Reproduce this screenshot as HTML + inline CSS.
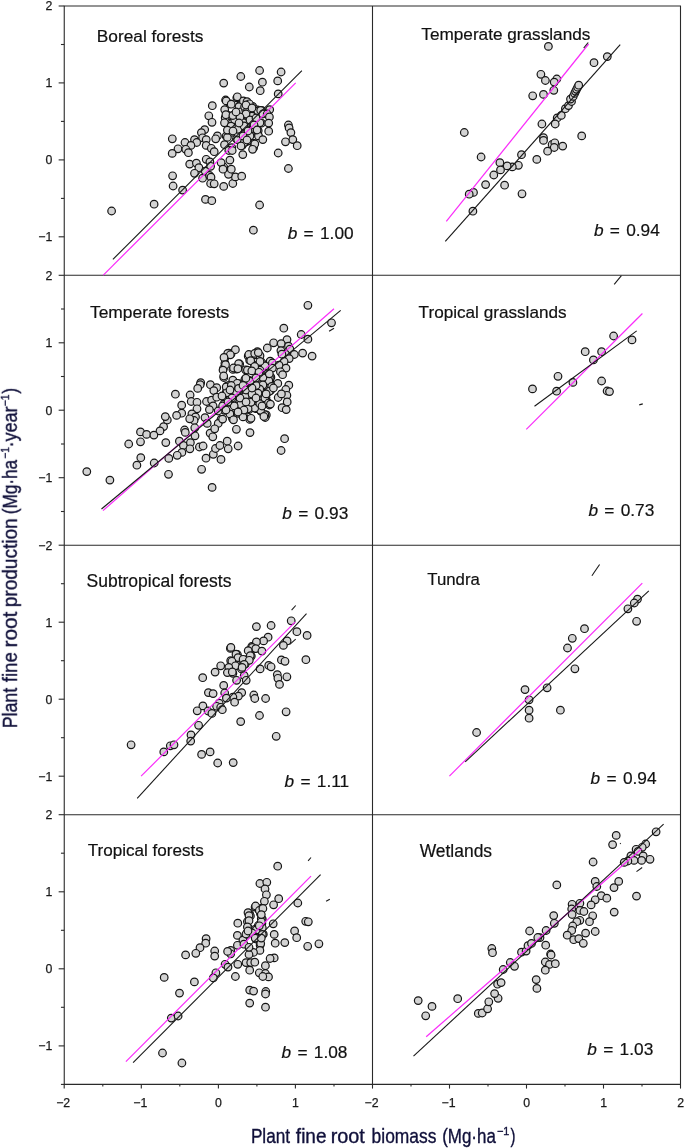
<!DOCTYPE html>
<html><head><meta charset="utf-8"><title>Fine root production vs biomass</title>
<style>html,body{margin:0;padding:0;background:#fff;}svg{display:block;}text{font-family:"Liberation Sans",sans-serif;}.tk{font-size:12.3px;fill:#1a1a1a;stroke:#1a1a1a;stroke-width:0.25px;}.lb{font-size:17.3px;fill:#111;stroke:#111;stroke-width:0.2px;}.bb{word-spacing:1.5px;}.ti{font-size:19.6px;fill:#10103a;stroke:#10103a;stroke-width:0.35px;}.pt circle{fill:#d3d3d3;stroke:#151515;stroke-width:1.2;}.ax{stroke:#2a2a2a;stroke-width:1.1;fill:none;}.bl{stroke:#181818;stroke-width:1.1;fill:none;}.af{stroke:#181818;stroke-width:1.1;fill:none;}.mg{stroke:#fa2cfa;stroke-width:1.2;fill:none;}</style></head><body>
<svg width="685" height="1148" viewBox="0 0 685 1148">
<defs><filter id="nf" x="-5%" y="-5%" width="110%" height="110%"><feOffset dx="0" dy="0"/></filter></defs>
<rect x="0" y="0" width="685" height="1148" fill="#fff"/>
<g class="ax">
<path d="M64.25 6.0 H680.5 V1084.4 H64.25 Z"/>
<path d="M372.5 6.0 V1084.4"/>
<path d="M64.25 275.3 H680.5"/>
<path d="M64.25 545.2 H680.5"/>
<path d="M64.25 814.7 H680.5"/>
<path d="M58.65 6.0 H64.25"/>
<path d="M60.95 44.5 H64.25"/>
<path d="M58.65 82.9 H64.25"/>
<path d="M60.95 121.4 H64.25"/>
<path d="M58.65 159.9 H64.25"/>
<path d="M60.95 198.4 H64.25"/>
<path d="M58.65 236.8 H64.25"/>
<path d="M58.65 275.3 H64.25"/>
<path d="M60.95 309.0 H64.25"/>
<path d="M58.65 342.8 H64.25"/>
<path d="M60.95 376.5 H64.25"/>
<path d="M58.65 410.2 H64.25"/>
<path d="M60.95 444.0 H64.25"/>
<path d="M58.65 477.7 H64.25"/>
<path d="M60.95 511.5 H64.25"/>
<path d="M58.65 545.2 H64.25"/>
<path d="M60.95 583.7 H64.25"/>
<path d="M58.65 622.2 H64.25"/>
<path d="M60.95 660.7 H64.25"/>
<path d="M58.65 699.2 H64.25"/>
<path d="M60.95 737.7 H64.25"/>
<path d="M58.65 776.2 H64.25"/>
<path d="M58.65 814.7 H64.25"/>
<path d="M60.95 853.2 H64.25"/>
<path d="M58.65 891.8 H64.25"/>
<path d="M60.95 930.3 H64.25"/>
<path d="M58.65 968.8 H64.25"/>
<path d="M60.95 1007.3 H64.25"/>
<path d="M58.65 1045.9 H64.25"/>
<path d="M60.95 1084.4 H64.25"/>
<path d="M64.2 1084.4 V1088.6"/>
<path d="M102.8 1084.4 V1086.6"/>
<path d="M141.3 1084.4 V1088.6"/>
<path d="M179.8 1084.4 V1086.6"/>
<path d="M218.4 1084.4 V1088.6"/>
<path d="M256.9 1084.4 V1086.6"/>
<path d="M295.4 1084.4 V1088.6"/>
<path d="M334.0 1084.4 V1086.6"/>
<path d="M372.5 1084.4 V1088.6"/>
<path d="M411.0 1084.4 V1086.6"/>
<path d="M449.5 1084.4 V1088.6"/>
<path d="M488.0 1084.4 V1086.6"/>
<path d="M526.5 1084.4 V1088.6"/>
<path d="M565.0 1084.4 V1086.6"/>
<path d="M603.5 1084.4 V1088.6"/>
<path d="M642.0 1084.4 V1086.6"/>
<path d="M680.5 1084.4 V1088.6"/>
</g>
<g class="tk" filter="url(#nf)">
<text x="52.3" y="10.4" text-anchor="end">2</text>
<text x="52.3" y="87.3" text-anchor="end">1</text>
<text x="52.3" y="164.3" text-anchor="end">0</text>
<text x="52.3" y="241.2" text-anchor="end">−1</text>
<text x="52.3" y="279.7" text-anchor="end">2</text>
<text x="52.3" y="347.2" text-anchor="end">1</text>
<text x="52.3" y="414.6" text-anchor="end">0</text>
<text x="52.3" y="482.1" text-anchor="end">−1</text>
<text x="52.3" y="549.6" text-anchor="end">−2</text>
<text x="52.3" y="626.6" text-anchor="end">1</text>
<text x="52.3" y="703.6" text-anchor="end">0</text>
<text x="52.3" y="780.6" text-anchor="end">−1</text>
<text x="52.3" y="819.1" text-anchor="end">2</text>
<text x="52.3" y="896.2" text-anchor="end">1</text>
<text x="52.3" y="973.2" text-anchor="end">0</text>
<text x="52.3" y="1050.3" text-anchor="end">−1</text>
<text x="63.2" y="1106.7" text-anchor="middle">−2</text>
<text x="140.3" y="1106.7" text-anchor="middle">−1</text>
<text x="218.5" y="1106.7" text-anchor="middle">0</text>
<text x="295.5" y="1106.7" text-anchor="middle">1</text>
<text x="371.5" y="1106.7" text-anchor="middle">−2</text>
<text x="448.5" y="1106.7" text-anchor="middle">−1</text>
<text x="526.6" y="1106.7" text-anchor="middle">0</text>
<text x="603.6" y="1106.7" text-anchor="middle">1</text>
<text x="680.6" y="1106.7" text-anchor="middle">2</text>
</g>
<g class="pt">
<circle cx="236.8" cy="97.8" r="3.8"/>
<circle cx="225.6" cy="100.0" r="3.8"/>
<circle cx="229.9" cy="103.9" r="3.8"/>
<circle cx="226.6" cy="118.2" r="3.8"/>
<circle cx="227.3" cy="115.0" r="3.8"/>
<circle cx="235.7" cy="120.4" r="3.8"/>
<circle cx="229.4" cy="126.9" r="3.8"/>
<circle cx="244.3" cy="123.6" r="3.8"/>
<circle cx="226.1" cy="136.1" r="3.8"/>
<circle cx="236.4" cy="139.0" r="3.8"/>
<circle cx="245.2" cy="142.3" r="3.8"/>
<circle cx="239.8" cy="105.7" r="3.8"/>
<circle cx="244.1" cy="101.8" r="3.8"/>
<circle cx="246.4" cy="103.2" r="3.8"/>
<circle cx="241.8" cy="113.2" r="3.8"/>
<circle cx="244.7" cy="108.6" r="3.8"/>
<circle cx="235.1" cy="128.3" r="3.8"/>
<circle cx="228.5" cy="130.5" r="3.8"/>
<circle cx="249.4" cy="134.7" r="3.8"/>
<circle cx="231.2" cy="149.0" r="3.8"/>
<circle cx="248.1" cy="104.2" r="3.8"/>
<circle cx="238.0" cy="131.4" r="3.8"/>
<circle cx="244.7" cy="108.2" r="3.8"/>
<circle cx="252.3" cy="108.6" r="3.8"/>
<circle cx="257.5" cy="109.9" r="3.8"/>
<circle cx="261.8" cy="110.3" r="3.8"/>
<circle cx="246.0" cy="111.2" r="3.8"/>
<circle cx="252.7" cy="117.4" r="3.8"/>
<circle cx="261.5" cy="123.2" r="3.8"/>
<circle cx="252.7" cy="127.1" r="3.8"/>
<circle cx="238.9" cy="128.4" r="3.8"/>
<circle cx="258.0" cy="134.5" r="3.8"/>
<circle cx="253.6" cy="143.2" r="3.8"/>
<circle cx="253.6" cy="147.7" r="3.8"/>
<circle cx="231.3" cy="115.8" r="3.8"/>
<circle cx="247.5" cy="114.6" r="3.8"/>
<circle cx="248.9" cy="118.5" r="3.8"/>
<circle cx="256.5" cy="116.9" r="3.8"/>
<circle cx="242.8" cy="127.1" r="3.8"/>
<circle cx="249.4" cy="131.2" r="3.8"/>
<circle cx="240.5" cy="118.0" r="3.8"/>
<circle cx="237.6" cy="112.6" r="3.8"/>
<circle cx="254.8" cy="125.9" r="3.8"/>
<circle cx="241.6" cy="137.1" r="3.8"/>
<circle cx="258.2" cy="130.7" r="3.8"/>
<circle cx="244.3" cy="104.5" r="3.8"/>
<circle cx="252.7" cy="106.4" r="3.8"/>
<circle cx="238.8" cy="124.4" r="3.8"/>
<circle cx="231.9" cy="132.4" r="3.8"/>
<circle cx="242.1" cy="145.7" r="3.8"/>
<circle cx="247.5" cy="141.1" r="3.8"/>
<circle cx="240.8" cy="76.5" r="3.8"/>
<circle cx="223.7" cy="83.1" r="3.8"/>
<circle cx="249.3" cy="87.0" r="3.8"/>
<circle cx="237.3" cy="96.8" r="3.8"/>
<circle cx="226.2" cy="100.9" r="3.8"/>
<circle cx="231.2" cy="104.2" r="3.8"/>
<circle cx="212.3" cy="105.7" r="3.8"/>
<circle cx="224.7" cy="109.6" r="3.8"/>
<circle cx="208.8" cy="115.8" r="3.8"/>
<circle cx="212.0" cy="122.3" r="3.8"/>
<circle cx="225.2" cy="117.7" r="3.8"/>
<circle cx="225.9" cy="114.7" r="3.8"/>
<circle cx="234.7" cy="119.9" r="3.8"/>
<circle cx="224.5" cy="122.8" r="3.8"/>
<circle cx="231.0" cy="126.1" r="3.8"/>
<circle cx="243.4" cy="122.8" r="3.8"/>
<circle cx="204.7" cy="129.6" r="3.8"/>
<circle cx="201.4" cy="132.6" r="3.8"/>
<circle cx="202.6" cy="137.8" r="3.8"/>
<circle cx="206.2" cy="139.6" r="3.8"/>
<circle cx="194.5" cy="139.6" r="3.8"/>
<circle cx="196.7" cy="142.5" r="3.8"/>
<circle cx="172.3" cy="138.8" r="3.8"/>
<circle cx="185.0" cy="142.5" r="3.8"/>
<circle cx="178.0" cy="148.8" r="3.8"/>
<circle cx="190.9" cy="145.4" r="3.8"/>
<circle cx="185.8" cy="149.3" r="3.8"/>
<circle cx="172.2" cy="153.4" r="3.8"/>
<circle cx="188.4" cy="152.7" r="3.8"/>
<circle cx="217.4" cy="135.9" r="3.8"/>
<circle cx="215.7" cy="138.8" r="3.8"/>
<circle cx="206.2" cy="145.4" r="3.8"/>
<circle cx="211.3" cy="148.3" r="3.8"/>
<circle cx="214.2" cy="151.7" r="3.8"/>
<circle cx="227.4" cy="137.4" r="3.8"/>
<circle cx="237.6" cy="139.6" r="3.8"/>
<circle cx="244.2" cy="142.5" r="3.8"/>
<circle cx="224.5" cy="144.7" r="3.8"/>
<circle cx="242.8" cy="154.6" r="3.8"/>
<circle cx="206.2" cy="159.3" r="3.8"/>
<circle cx="239.0" cy="106.7" r="3.8"/>
<circle cx="243.4" cy="100.9" r="3.8"/>
<circle cx="247.0" cy="101.6" r="3.8"/>
<circle cx="241.2" cy="111.8" r="3.8"/>
<circle cx="245.6" cy="109.6" r="3.8"/>
<circle cx="236.1" cy="128.6" r="3.8"/>
<circle cx="227.4" cy="130.1" r="3.8"/>
<circle cx="250.0" cy="136.0" r="3.8"/>
<circle cx="231.8" cy="147.6" r="3.8"/>
<circle cx="228.8" cy="150.5" r="3.8"/>
<circle cx="249.3" cy="103.8" r="3.8"/>
<circle cx="237.6" cy="133.0" r="3.8"/>
<circle cx="259.6" cy="70.5" r="3.8"/>
<circle cx="281.1" cy="72.0" r="3.8"/>
<circle cx="262.4" cy="82.2" r="3.8"/>
<circle cx="277.7" cy="80.9" r="3.8"/>
<circle cx="260.2" cy="90.7" r="3.8"/>
<circle cx="278.2" cy="93.9" r="3.8"/>
<circle cx="244.6" cy="106.7" r="3.8"/>
<circle cx="254.1" cy="108.9" r="3.8"/>
<circle cx="257.7" cy="111.1" r="3.8"/>
<circle cx="260.7" cy="110.4" r="3.8"/>
<circle cx="269.7" cy="109.6" r="3.8"/>
<circle cx="247.5" cy="110.4" r="3.8"/>
<circle cx="262.8" cy="114.0" r="3.8"/>
<circle cx="267.2" cy="114.0" r="3.8"/>
<circle cx="269.4" cy="116.9" r="3.8"/>
<circle cx="251.9" cy="116.2" r="3.8"/>
<circle cx="259.9" cy="122.8" r="3.8"/>
<circle cx="268.7" cy="123.1" r="3.8"/>
<circle cx="252.6" cy="128.6" r="3.8"/>
<circle cx="238.0" cy="129.3" r="3.8"/>
<circle cx="268.7" cy="131.2" r="3.8"/>
<circle cx="258.5" cy="135.9" r="3.8"/>
<circle cx="262.8" cy="139.6" r="3.8"/>
<circle cx="254.8" cy="143.9" r="3.8"/>
<circle cx="252.6" cy="149.3" r="3.8"/>
<circle cx="288.4" cy="125.0" r="3.8"/>
<circle cx="289.1" cy="127.9" r="3.8"/>
<circle cx="290.9" cy="132.6" r="3.8"/>
<circle cx="292.8" cy="139.6" r="3.8"/>
<circle cx="285.5" cy="141.8" r="3.8"/>
<circle cx="297.2" cy="145.7" r="3.8"/>
<circle cx="278.2" cy="153.0" r="3.8"/>
<circle cx="232.2" cy="150.5" r="3.8"/>
<circle cx="232.9" cy="115.5" r="3.8"/>
<circle cx="189.7" cy="164.1" r="3.8"/>
<circle cx="196.4" cy="163.1" r="3.8"/>
<circle cx="198.9" cy="167.7" r="3.8"/>
<circle cx="209.9" cy="161.9" r="3.8"/>
<circle cx="210.6" cy="166.3" r="3.8"/>
<circle cx="194.5" cy="173.3" r="3.8"/>
<circle cx="205.2" cy="171.1" r="3.8"/>
<circle cx="202.6" cy="178.2" r="3.8"/>
<circle cx="209.6" cy="175.5" r="3.8"/>
<circle cx="211.0" cy="177.2" r="3.8"/>
<circle cx="210.6" cy="183.5" r="3.8"/>
<circle cx="214.2" cy="183.8" r="3.8"/>
<circle cx="172.6" cy="175.8" r="3.8"/>
<circle cx="173.1" cy="186.0" r="3.8"/>
<circle cx="182.6" cy="190.1" r="3.8"/>
<circle cx="154.1" cy="204.2" r="3.8"/>
<circle cx="205.5" cy="199.4" r="3.8"/>
<circle cx="211.8" cy="200.7" r="3.8"/>
<circle cx="223.7" cy="186.4" r="3.8"/>
<circle cx="232.8" cy="183.5" r="3.8"/>
<circle cx="235.4" cy="176.9" r="3.8"/>
<circle cx="241.7" cy="176.2" r="3.8"/>
<circle cx="228.5" cy="174.3" r="3.8"/>
<circle cx="231.3" cy="169.2" r="3.8"/>
<circle cx="223.7" cy="167.0" r="3.8"/>
<circle cx="221.1" cy="162.6" r="3.8"/>
<circle cx="229.9" cy="160.1" r="3.8"/>
<circle cx="223.0" cy="169.2" r="3.8"/>
<circle cx="288.4" cy="168.5" r="3.8"/>
<circle cx="259.6" cy="205.0" r="3.8"/>
<circle cx="253.4" cy="230.2" r="3.8"/>
<circle cx="111.6" cy="211.0" r="3.8"/>
<circle cx="246.0" cy="114.0" r="3.8"/>
<circle cx="250.0" cy="120.0" r="3.8"/>
<circle cx="256.0" cy="118.0" r="3.8"/>
<circle cx="244.0" cy="126.0" r="3.8"/>
<circle cx="248.0" cy="131.0" r="3.8"/>
<circle cx="240.0" cy="117.0" r="3.8"/>
<circle cx="236.0" cy="112.0" r="3.8"/>
<circle cx="254.0" cy="125.0" r="3.8"/>
<circle cx="243.0" cy="136.0" r="3.8"/>
<circle cx="257.0" cy="130.0" r="3.8"/>
<circle cx="246.0" cy="105.0" r="3.8"/>
<circle cx="252.0" cy="108.0" r="3.8"/>
<circle cx="239.0" cy="123.0" r="3.8"/>
<circle cx="233.0" cy="131.0" r="3.8"/>
<circle cx="241.0" cy="146.0" r="3.8"/>
<circle cx="247.0" cy="140.0" r="3.8"/>
</g>
<path class="mg" d="M103.3 275.1 L295.7 82.9"/>
<path class="bl" d="M112.9 259.4 L301.9 70.7"/>
<g class="pt">
<circle cx="548.4" cy="46.4" r="3.8"/>
<circle cx="607.3" cy="56.6" r="3.8"/>
<circle cx="594.0" cy="62.7" r="3.8"/>
<circle cx="540.9" cy="74.3" r="3.8"/>
<circle cx="545.4" cy="80.5" r="3.8"/>
<circle cx="556.8" cy="79.0" r="3.8"/>
<circle cx="554.2" cy="82.1" r="3.8"/>
<circle cx="553.8" cy="90.3" r="3.8"/>
<circle cx="543.5" cy="94.4" r="3.8"/>
<circle cx="532.7" cy="95.8" r="3.8"/>
<circle cx="557.2" cy="117.9" r="3.8"/>
<circle cx="561.3" cy="115.4" r="3.8"/>
<circle cx="565.4" cy="108.7" r="3.8"/>
<circle cx="568.5" cy="105.6" r="3.8"/>
<circle cx="571.5" cy="101.5" r="3.8"/>
<circle cx="570.5" cy="99.1" r="3.8"/>
<circle cx="573.2" cy="96.4" r="3.8"/>
<circle cx="574.6" cy="93.4" r="3.8"/>
<circle cx="575.6" cy="91.3" r="3.8"/>
<circle cx="576.6" cy="89.3" r="3.8"/>
<circle cx="577.7" cy="87.2" r="3.8"/>
<circle cx="578.7" cy="85.2" r="3.8"/>
<circle cx="555.2" cy="124.0" r="3.8"/>
<circle cx="541.9" cy="124.0" r="3.8"/>
<circle cx="581.7" cy="135.9" r="3.8"/>
<circle cx="543.5" cy="137.7" r="3.8"/>
<circle cx="543.5" cy="140.4" r="3.8"/>
<circle cx="552.1" cy="144.5" r="3.8"/>
<circle cx="554.8" cy="142.8" r="3.8"/>
<circle cx="554.2" cy="147.5" r="3.8"/>
<circle cx="562.7" cy="146.1" r="3.8"/>
<circle cx="547.6" cy="151.2" r="3.8"/>
<circle cx="536.8" cy="159.4" r="3.8"/>
<circle cx="521.5" cy="154.7" r="3.8"/>
<circle cx="518.4" cy="165.3" r="3.8"/>
<circle cx="512.3" cy="166.9" r="3.8"/>
<circle cx="507.2" cy="165.9" r="3.8"/>
<circle cx="499.9" cy="162.7" r="3.8"/>
<circle cx="464.3" cy="132.5" r="3.8"/>
<circle cx="481.1" cy="157.0" r="3.8"/>
<circle cx="500.5" cy="169.9" r="3.8"/>
<circle cx="493.8" cy="175.0" r="3.8"/>
<circle cx="485.6" cy="184.6" r="3.8"/>
<circle cx="504.6" cy="185.2" r="3.8"/>
<circle cx="522.0" cy="193.8" r="3.8"/>
<circle cx="473.5" cy="192.4" r="3.8"/>
<circle cx="469.2" cy="194.2" r="3.8"/>
<circle cx="472.9" cy="211.2" r="3.8"/>
</g>
<path class="mg" d="M446.3 221.4 L588.6 44.0"/>
<path class="bl" d="M445.3 241.4 L620.2 44.7"/>
<g class="pt">
<circle cx="269.7" cy="362.1" r="3.8"/>
<circle cx="264.5" cy="365.0" r="3.8"/>
<circle cx="258.7" cy="355.4" r="3.8"/>
<circle cx="261.4" cy="362.0" r="3.8"/>
<circle cx="270.9" cy="377.2" r="3.8"/>
<circle cx="269.8" cy="381.3" r="3.8"/>
<circle cx="261.3" cy="378.4" r="3.8"/>
<circle cx="263.8" cy="385.7" r="3.8"/>
<circle cx="270.4" cy="385.1" r="3.8"/>
<circle cx="258.8" cy="369.7" r="3.8"/>
<circle cx="228.7" cy="353.2" r="3.8"/>
<circle cx="231.1" cy="353.8" r="3.8"/>
<circle cx="224.7" cy="358.3" r="3.8"/>
<circle cx="248.2" cy="356.1" r="3.8"/>
<circle cx="255.3" cy="354.8" r="3.8"/>
<circle cx="257.4" cy="351.6" r="3.8"/>
<circle cx="249.7" cy="360.4" r="3.8"/>
<circle cx="239.7" cy="364.0" r="3.8"/>
<circle cx="224.9" cy="363.4" r="3.8"/>
<circle cx="232.9" cy="369.4" r="3.8"/>
<circle cx="236.7" cy="369.1" r="3.8"/>
<circle cx="223.4" cy="368.5" r="3.8"/>
<circle cx="223.8" cy="377.5" r="3.8"/>
<circle cx="245.6" cy="369.8" r="3.8"/>
<circle cx="254.5" cy="365.3" r="3.8"/>
<circle cx="252.9" cy="370.8" r="3.8"/>
<circle cx="257.5" cy="373.1" r="3.8"/>
<circle cx="233.6" cy="381.3" r="3.8"/>
<circle cx="238.8" cy="383.7" r="3.8"/>
<circle cx="247.5" cy="380.3" r="3.8"/>
<circle cx="227.1" cy="386.0" r="3.8"/>
<circle cx="226.4" cy="391.4" r="3.8"/>
<circle cx="230.1" cy="384.8" r="3.8"/>
<circle cx="223.6" cy="404.3" r="3.8"/>
<circle cx="221.0" cy="419.4" r="3.8"/>
<circle cx="231.4" cy="414.5" r="3.8"/>
<circle cx="232.4" cy="418.3" r="3.8"/>
<circle cx="243.5" cy="415.8" r="3.8"/>
<circle cx="249.8" cy="419.4" r="3.8"/>
<circle cx="266.3" cy="414.9" r="3.8"/>
<circle cx="261.0" cy="411.3" r="3.8"/>
<circle cx="256.3" cy="408.7" r="3.8"/>
<circle cx="248.9" cy="409.7" r="3.8"/>
<circle cx="239.4" cy="405.6" r="3.8"/>
<circle cx="252.2" cy="403.0" r="3.8"/>
<circle cx="258.1" cy="403.2" r="3.8"/>
<circle cx="245.9" cy="394.8" r="3.8"/>
<circle cx="236.2" cy="394.2" r="3.8"/>
<circle cx="258.7" cy="390.5" r="3.8"/>
<circle cx="266.0" cy="397.6" r="3.8"/>
<circle cx="269.0" cy="404.1" r="3.8"/>
<circle cx="256.3" cy="386.9" r="3.8"/>
<circle cx="249.3" cy="380.4" r="3.8"/>
<circle cx="235.6" cy="405.9" r="3.8"/>
<circle cx="244.9" cy="379.3" r="3.8"/>
<circle cx="240.2" cy="387.9" r="3.8"/>
<circle cx="267.8" cy="373.6" r="3.8"/>
<circle cx="242.5" cy="384.6" r="3.8"/>
<circle cx="270.7" cy="390.3" r="3.8"/>
<circle cx="267.3" cy="392.7" r="3.8"/>
<circle cx="269.3" cy="405.0" r="3.8"/>
<circle cx="265.2" cy="417.5" r="3.8"/>
<circle cx="259.0" cy="393.5" r="3.8"/>
<circle cx="246.3" cy="391.1" r="3.8"/>
<circle cx="251.4" cy="394.9" r="3.8"/>
<circle cx="241.1" cy="398.0" r="3.8"/>
<circle cx="233.1" cy="398.8" r="3.8"/>
<circle cx="229.8" cy="402.3" r="3.8"/>
<circle cx="243.1" cy="409.3" r="3.8"/>
<circle cx="238.0" cy="413.3" r="3.8"/>
<circle cx="255.3" cy="398.8" r="3.8"/>
<circle cx="263.1" cy="404.5" r="3.8"/>
<circle cx="224.6" cy="410.3" r="3.8"/>
<circle cx="222.9" cy="396.6" r="3.8"/>
<circle cx="255.3" cy="379.0" r="3.8"/>
<circle cx="230.5" cy="389.0" r="3.8"/>
<circle cx="253.8" cy="388.3" r="3.8"/>
<circle cx="244.9" cy="401.8" r="3.8"/>
<circle cx="307.9" cy="305.3" r="3.8"/>
<circle cx="331.5" cy="322.8" r="3.8"/>
<circle cx="283.8" cy="328.2" r="3.8"/>
<circle cx="301.2" cy="334.5" r="3.8"/>
<circle cx="307.9" cy="339.2" r="3.8"/>
<circle cx="287.0" cy="339.6" r="3.8"/>
<circle cx="273.6" cy="342.8" r="3.8"/>
<circle cx="281.2" cy="343.6" r="3.8"/>
<circle cx="267.3" cy="348.0" r="3.8"/>
<circle cx="288.5" cy="346.2" r="3.8"/>
<circle cx="289.9" cy="349.1" r="3.8"/>
<circle cx="280.9" cy="350.6" r="3.8"/>
<circle cx="302.6" cy="353.1" r="3.8"/>
<circle cx="312.1" cy="356.1" r="3.8"/>
<circle cx="294.3" cy="354.5" r="3.8"/>
<circle cx="285.5" cy="354.2" r="3.8"/>
<circle cx="281.9" cy="354.2" r="3.8"/>
<circle cx="289.2" cy="358.6" r="3.8"/>
<circle cx="284.1" cy="361.5" r="3.8"/>
<circle cx="270.2" cy="361.1" r="3.8"/>
<circle cx="272.4" cy="363.0" r="3.8"/>
<circle cx="265.1" cy="365.9" r="3.8"/>
<circle cx="260.0" cy="355.7" r="3.8"/>
<circle cx="260.0" cy="361.5" r="3.8"/>
<circle cx="279.0" cy="365.2" r="3.8"/>
<circle cx="286.0" cy="368.1" r="3.8"/>
<circle cx="280.4" cy="371.8" r="3.8"/>
<circle cx="282.6" cy="374.7" r="3.8"/>
<circle cx="272.4" cy="368.1" r="3.8"/>
<circle cx="269.5" cy="376.9" r="3.8"/>
<circle cx="268.8" cy="380.8" r="3.8"/>
<circle cx="277.8" cy="383.4" r="3.8"/>
<circle cx="288.8" cy="385.2" r="3.8"/>
<circle cx="262.9" cy="377.6" r="3.8"/>
<circle cx="262.9" cy="384.9" r="3.8"/>
<circle cx="271.7" cy="386.4" r="3.8"/>
<circle cx="260.0" cy="370.3" r="3.8"/>
<circle cx="235.4" cy="349.7" r="3.8"/>
<circle cx="227.7" cy="353.4" r="3.8"/>
<circle cx="230.3" cy="354.8" r="3.8"/>
<circle cx="224.0" cy="357.4" r="3.8"/>
<circle cx="248.8" cy="354.5" r="3.8"/>
<circle cx="254.7" cy="353.4" r="3.8"/>
<circle cx="258.3" cy="352.6" r="3.8"/>
<circle cx="250.7" cy="360.7" r="3.8"/>
<circle cx="238.6" cy="363.6" r="3.8"/>
<circle cx="225.5" cy="364.7" r="3.8"/>
<circle cx="233.5" cy="368.0" r="3.8"/>
<circle cx="237.9" cy="368.7" r="3.8"/>
<circle cx="223.0" cy="370.1" r="3.8"/>
<circle cx="223.7" cy="376.0" r="3.8"/>
<circle cx="247.4" cy="370.1" r="3.8"/>
<circle cx="254.7" cy="366.5" r="3.8"/>
<circle cx="251.8" cy="370.9" r="3.8"/>
<circle cx="259.0" cy="372.3" r="3.8"/>
<circle cx="232.8" cy="380.1" r="3.8"/>
<circle cx="237.2" cy="383.3" r="3.8"/>
<circle cx="247.4" cy="381.8" r="3.8"/>
<circle cx="200.7" cy="382.6" r="3.8"/>
<circle cx="200.2" cy="384.7" r="3.8"/>
<circle cx="197.7" cy="388.4" r="3.8"/>
<circle cx="210.4" cy="384.7" r="3.8"/>
<circle cx="216.7" cy="387.7" r="3.8"/>
<circle cx="213.8" cy="390.6" r="3.8"/>
<circle cx="226.2" cy="386.9" r="3.8"/>
<circle cx="226.9" cy="392.8" r="3.8"/>
<circle cx="231.3" cy="385.5" r="3.8"/>
<circle cx="175.4" cy="394.2" r="3.8"/>
<circle cx="190.1" cy="395.0" r="3.8"/>
<circle cx="191.2" cy="401.5" r="3.8"/>
<circle cx="197.0" cy="402.3" r="3.8"/>
<circle cx="197.0" cy="408.8" r="3.8"/>
<circle cx="181.7" cy="405.2" r="3.8"/>
<circle cx="181.7" cy="413.2" r="3.8"/>
<circle cx="176.6" cy="415.4" r="3.8"/>
<circle cx="191.9" cy="413.9" r="3.8"/>
<circle cx="195.5" cy="416.9" r="3.8"/>
<circle cx="194.1" cy="420.5" r="3.8"/>
<circle cx="189.7" cy="418.8" r="3.8"/>
<circle cx="205.0" cy="417.6" r="3.8"/>
<circle cx="207.2" cy="423.4" r="3.8"/>
<circle cx="206.5" cy="401.5" r="3.8"/>
<circle cx="211.6" cy="400.1" r="3.8"/>
<circle cx="216.7" cy="397.2" r="3.8"/>
<circle cx="213.1" cy="405.9" r="3.8"/>
<circle cx="209.4" cy="409.6" r="3.8"/>
<circle cx="218.2" cy="411.0" r="3.8"/>
<circle cx="222.6" cy="405.9" r="3.8"/>
<circle cx="218.2" cy="423.4" r="3.8"/>
<circle cx="222.6" cy="419.1" r="3.8"/>
<circle cx="229.9" cy="413.9" r="3.8"/>
<circle cx="233.5" cy="419.8" r="3.8"/>
<circle cx="243.0" cy="416.9" r="3.8"/>
<circle cx="251.0" cy="418.3" r="3.8"/>
<circle cx="264.9" cy="414.7" r="3.8"/>
<circle cx="260.5" cy="410.3" r="3.8"/>
<circle cx="254.7" cy="408.1" r="3.8"/>
<circle cx="248.1" cy="408.8" r="3.8"/>
<circle cx="240.8" cy="404.5" r="3.8"/>
<circle cx="251.0" cy="402.3" r="3.8"/>
<circle cx="259.8" cy="403.7" r="3.8"/>
<circle cx="245.2" cy="396.4" r="3.8"/>
<circle cx="236.4" cy="392.8" r="3.8"/>
<circle cx="259.8" cy="389.1" r="3.8"/>
<circle cx="264.9" cy="397.9" r="3.8"/>
<circle cx="268.5" cy="403.0" r="3.8"/>
<circle cx="256.1" cy="385.5" r="3.8"/>
<circle cx="250.3" cy="381.1" r="3.8"/>
<circle cx="236.4" cy="429.3" r="3.8"/>
<circle cx="194.8" cy="427.8" r="3.8"/>
<circle cx="234.2" cy="405.9" r="3.8"/>
<circle cx="245.9" cy="378.2" r="3.8"/>
<circle cx="238.6" cy="388.4" r="3.8"/>
<circle cx="269.3" cy="373.8" r="3.8"/>
<circle cx="243.0" cy="385.5" r="3.8"/>
<circle cx="269.3" cy="391.3" r="3.8"/>
<circle cx="184.6" cy="430.0" r="3.8"/>
<circle cx="285.8" cy="389.5" r="3.8"/>
<circle cx="273.4" cy="388.0" r="3.8"/>
<circle cx="286.9" cy="395.3" r="3.8"/>
<circle cx="278.2" cy="397.5" r="3.8"/>
<circle cx="266.1" cy="393.9" r="3.8"/>
<circle cx="287.2" cy="401.9" r="3.8"/>
<circle cx="270.4" cy="404.1" r="3.8"/>
<circle cx="282.1" cy="407.7" r="3.8"/>
<circle cx="286.2" cy="409.6" r="3.8"/>
<circle cx="263.9" cy="416.5" r="3.8"/>
<circle cx="250.0" cy="432.6" r="3.8"/>
<circle cx="284.6" cy="438.7" r="3.8"/>
<circle cx="281.1" cy="450.5" r="3.8"/>
<circle cx="258.0" cy="393.1" r="3.8"/>
<circle cx="281.4" cy="393.9" r="3.8"/>
<circle cx="163.6" cy="426.6" r="3.8"/>
<circle cx="160.0" cy="430.9" r="3.8"/>
<circle cx="165.8" cy="442.6" r="3.8"/>
<circle cx="185.3" cy="432.4" r="3.8"/>
<circle cx="195.0" cy="435.8" r="3.8"/>
<circle cx="179.4" cy="441.2" r="3.8"/>
<circle cx="183.4" cy="445.5" r="3.8"/>
<circle cx="190.4" cy="442.6" r="3.8"/>
<circle cx="189.9" cy="448.8" r="3.8"/>
<circle cx="181.9" cy="452.4" r="3.8"/>
<circle cx="177.2" cy="455.3" r="3.8"/>
<circle cx="168.8" cy="458.4" r="3.8"/>
<circle cx="168.5" cy="474.3" r="3.8"/>
<circle cx="199.4" cy="447.0" r="3.8"/>
<circle cx="203.1" cy="446.0" r="3.8"/>
<circle cx="206.0" cy="458.2" r="3.8"/>
<circle cx="201.6" cy="469.3" r="3.8"/>
<circle cx="212.1" cy="487.4" r="3.8"/>
<circle cx="213.3" cy="454.3" r="3.8"/>
<circle cx="215.5" cy="448.5" r="3.8"/>
<circle cx="219.9" cy="445.5" r="3.8"/>
<circle cx="221.0" cy="459.4" r="3.8"/>
<circle cx="227.2" cy="441.2" r="3.8"/>
<circle cx="228.2" cy="448.8" r="3.8"/>
<circle cx="238.1" cy="446.0" r="3.8"/>
<circle cx="210.1" cy="433.1" r="3.8"/>
<circle cx="212.8" cy="436.8" r="3.8"/>
<circle cx="214.7" cy="428.8" r="3.8"/>
<circle cx="167.3" cy="420.0" r="3.8"/>
<circle cx="86.8" cy="471.6" r="3.8"/>
<circle cx="109.9" cy="480.1" r="3.8"/>
<circle cx="128.7" cy="444.0" r="3.8"/>
<circle cx="136.9" cy="465.2" r="3.8"/>
<circle cx="140.8" cy="457.7" r="3.8"/>
<circle cx="140.5" cy="441.8" r="3.8"/>
<circle cx="140.5" cy="431.9" r="3.8"/>
<circle cx="146.6" cy="434.4" r="3.8"/>
<circle cx="153.9" cy="435.1" r="3.8"/>
<circle cx="165.3" cy="416.6" r="3.8"/>
<circle cx="154.2" cy="463.0" r="3.8"/>
<circle cx="246.0" cy="390.0" r="3.8"/>
<circle cx="252.0" cy="394.0" r="3.8"/>
<circle cx="240.0" cy="398.0" r="3.8"/>
<circle cx="232.0" cy="398.0" r="3.8"/>
<circle cx="228.0" cy="402.0" r="3.8"/>
<circle cx="244.0" cy="410.0" r="3.8"/>
<circle cx="238.0" cy="412.0" r="3.8"/>
<circle cx="256.0" cy="398.0" r="3.8"/>
<circle cx="262.0" cy="406.0" r="3.8"/>
<circle cx="226.0" cy="410.0" r="3.8"/>
<circle cx="222.0" cy="396.0" r="3.8"/>
<circle cx="256.0" cy="378.0" r="3.8"/>
<circle cx="230.0" cy="390.0" r="3.8"/>
<circle cx="252.0" cy="388.0" r="3.8"/>
<circle cx="246.0" cy="402.0" r="3.8"/>
</g>
<path class="mg" d="M103.0 510.6 L334.0 308.8"/>
<path class="bl" d="M101.5 509.0 L340.7 310.4"/>
<g class="pt">
<circle cx="613.6" cy="336.0" r="3.8"/>
<circle cx="632.0" cy="339.9" r="3.8"/>
<circle cx="585.2" cy="351.7" r="3.8"/>
<circle cx="601.6" cy="351.7" r="3.8"/>
<circle cx="593.4" cy="359.9" r="3.8"/>
<circle cx="558.0" cy="376.3" r="3.8"/>
<circle cx="572.9" cy="382.4" r="3.8"/>
<circle cx="601.6" cy="381.0" r="3.8"/>
<circle cx="532.5" cy="388.9" r="3.8"/>
<circle cx="556.6" cy="391.2" r="3.8"/>
<circle cx="607.1" cy="391.0" r="3.8"/>
<circle cx="609.5" cy="391.6" r="3.8"/>
</g>
<path class="mg" d="M526.3 429.4 L642.4 313.5"/>
<path class="bl" d="M534.5 406.3 L636.7 330.9"/>
<g class="pt">
<circle cx="230.4" cy="648.4" r="3.8"/>
<circle cx="251.7" cy="646.5" r="3.8"/>
<circle cx="254.5" cy="648.3" r="3.8"/>
<circle cx="249.6" cy="651.2" r="3.8"/>
<circle cx="237.4" cy="654.5" r="3.8"/>
<circle cx="251.3" cy="656.1" r="3.8"/>
<circle cx="236.4" cy="658.4" r="3.8"/>
<circle cx="244.0" cy="660.1" r="3.8"/>
<circle cx="248.0" cy="659.0" r="3.8"/>
<circle cx="230.7" cy="660.7" r="3.8"/>
<circle cx="245.2" cy="664.2" r="3.8"/>
<circle cx="236.2" cy="664.8" r="3.8"/>
<circle cx="229.5" cy="668.3" r="3.8"/>
<circle cx="241.5" cy="669.0" r="3.8"/>
<circle cx="232.9" cy="673.3" r="3.8"/>
<circle cx="291.2" cy="620.8" r="3.8"/>
<circle cx="271.1" cy="625.5" r="3.8"/>
<circle cx="256.4" cy="626.6" r="3.8"/>
<circle cx="296.9" cy="631.7" r="3.8"/>
<circle cx="307.1" cy="635.4" r="3.8"/>
<circle cx="268.1" cy="637.2" r="3.8"/>
<circle cx="263.6" cy="640.9" r="3.8"/>
<circle cx="256.4" cy="641.9" r="3.8"/>
<circle cx="287.1" cy="640.9" r="3.8"/>
<circle cx="283.4" cy="645.4" r="3.8"/>
<circle cx="230.9" cy="647.4" r="3.8"/>
<circle cx="252.3" cy="647.4" r="3.8"/>
<circle cx="255.8" cy="648.6" r="3.8"/>
<circle cx="248.2" cy="650.7" r="3.8"/>
<circle cx="261.9" cy="651.1" r="3.8"/>
<circle cx="236.0" cy="654.2" r="3.8"/>
<circle cx="250.3" cy="655.6" r="3.8"/>
<circle cx="238.0" cy="657.6" r="3.8"/>
<circle cx="243.1" cy="659.3" r="3.8"/>
<circle cx="249.3" cy="660.3" r="3.8"/>
<circle cx="231.9" cy="661.3" r="3.8"/>
<circle cx="244.2" cy="664.4" r="3.8"/>
<circle cx="220.7" cy="665.8" r="3.8"/>
<circle cx="235.4" cy="665.8" r="3.8"/>
<circle cx="228.8" cy="667.4" r="3.8"/>
<circle cx="242.1" cy="667.4" r="3.8"/>
<circle cx="215.1" cy="672.1" r="3.8"/>
<circle cx="227.4" cy="672.6" r="3.8"/>
<circle cx="232.3" cy="671.9" r="3.8"/>
<circle cx="260.1" cy="668.9" r="3.8"/>
<circle cx="268.7" cy="665.4" r="3.8"/>
<circle cx="271.1" cy="666.8" r="3.8"/>
<circle cx="281.4" cy="659.9" r="3.8"/>
<circle cx="285.0" cy="661.3" r="3.8"/>
<circle cx="305.9" cy="659.7" r="3.8"/>
<circle cx="277.3" cy="674.6" r="3.8"/>
<circle cx="277.9" cy="678.3" r="3.8"/>
<circle cx="286.9" cy="676.8" r="3.8"/>
<circle cx="279.5" cy="684.4" r="3.8"/>
<circle cx="202.7" cy="677.7" r="3.8"/>
<circle cx="244.2" cy="675.6" r="3.8"/>
<circle cx="246.2" cy="680.3" r="3.8"/>
<circle cx="236.6" cy="680.3" r="3.8"/>
<circle cx="223.7" cy="685.4" r="3.8"/>
<circle cx="208.4" cy="692.6" r="3.8"/>
<circle cx="213.1" cy="693.6" r="3.8"/>
<circle cx="241.7" cy="692.6" r="3.8"/>
<circle cx="238.4" cy="696.1" r="3.8"/>
<circle cx="232.9" cy="697.1" r="3.8"/>
<circle cx="224.7" cy="693.0" r="3.8"/>
<circle cx="226.4" cy="698.1" r="3.8"/>
<circle cx="234.6" cy="702.2" r="3.8"/>
<circle cx="253.8" cy="695.0" r="3.8"/>
<circle cx="254.8" cy="698.5" r="3.8"/>
<circle cx="265.6" cy="698.5" r="3.8"/>
<circle cx="202.9" cy="705.9" r="3.8"/>
<circle cx="219.2" cy="703.2" r="3.8"/>
<circle cx="216.6" cy="706.3" r="3.8"/>
<circle cx="197.2" cy="710.8" r="3.8"/>
<circle cx="208.0" cy="711.0" r="3.8"/>
<circle cx="211.9" cy="713.4" r="3.8"/>
<circle cx="220.7" cy="707.3" r="3.8"/>
<circle cx="222.3" cy="709.7" r="3.8"/>
<circle cx="259.5" cy="715.5" r="3.8"/>
<circle cx="286.1" cy="711.8" r="3.8"/>
<circle cx="240.7" cy="721.6" r="3.8"/>
<circle cx="198.6" cy="725.3" r="3.8"/>
<circle cx="191.0" cy="734.9" r="3.8"/>
<circle cx="276.2" cy="736.3" r="3.8"/>
<circle cx="131.1" cy="744.8" r="3.8"/>
<circle cx="163.8" cy="751.9" r="3.8"/>
<circle cx="170.3" cy="745.8" r="3.8"/>
<circle cx="174.0" cy="744.8" r="3.8"/>
<circle cx="190.7" cy="741.1" r="3.8"/>
<circle cx="201.6" cy="754.4" r="3.8"/>
<circle cx="210.1" cy="751.9" r="3.8"/>
<circle cx="217.7" cy="763.0" r="3.8"/>
<circle cx="233.2" cy="762.6" r="3.8"/>
</g>
<path class="mg" d="M141.1 776.2 L295.3 621.9"/>
<path class="bl" d="M137.2 798.3 L306.5 613.7"/>
<g class="pt">
<circle cx="637.5" cy="599.1" r="3.8"/>
<circle cx="634.3" cy="603.0" r="3.8"/>
<circle cx="627.9" cy="608.8" r="3.8"/>
<circle cx="636.6" cy="621.3" r="3.8"/>
<circle cx="584.5" cy="628.7" r="3.8"/>
<circle cx="572.3" cy="638.3" r="3.8"/>
<circle cx="567.5" cy="648.0" r="3.8"/>
<circle cx="574.9" cy="668.8" r="3.8"/>
<circle cx="547.1" cy="687.8" r="3.8"/>
<circle cx="525.0" cy="689.6" r="3.8"/>
<circle cx="529.1" cy="699.8" r="3.8"/>
<circle cx="529.1" cy="710.2" r="3.8"/>
<circle cx="529.1" cy="718.2" r="3.8"/>
<circle cx="560.4" cy="710.2" r="3.8"/>
<circle cx="476.6" cy="732.5" r="3.8"/>
</g>
<path class="mg" d="M449.4 776.1 L642.3 583.1"/>
<path class="bl" d="M465.2 761.8 L648.8 590.8"/>
<g class="pt">
<circle cx="255.1" cy="907.0" r="3.8"/>
<circle cx="258.7" cy="909.6" r="3.8"/>
<circle cx="261.6" cy="908.2" r="3.8"/>
<circle cx="249.4" cy="913.1" r="3.8"/>
<circle cx="250.4" cy="915.9" r="3.8"/>
<circle cx="262.3" cy="919.2" r="3.8"/>
<circle cx="247.4" cy="921.5" r="3.8"/>
<circle cx="248.3" cy="927.7" r="3.8"/>
<circle cx="261.0" cy="926.6" r="3.8"/>
<circle cx="255.0" cy="929.3" r="3.8"/>
<circle cx="263.3" cy="934.2" r="3.8"/>
<circle cx="252.9" cy="932.0" r="3.8"/>
<circle cx="255.9" cy="939.0" r="3.8"/>
<circle cx="260.1" cy="945.2" r="3.8"/>
<circle cx="261.9" cy="923.2" r="3.8"/>
<circle cx="260.4" cy="913.6" r="3.8"/>
<circle cx="258.3" cy="925.5" r="3.8"/>
<circle cx="247.1" cy="934.4" r="3.8"/>
<circle cx="260.7" cy="936.8" r="3.8"/>
<circle cx="247.4" cy="932.4" r="3.8"/>
<circle cx="277.7" cy="866.2" r="3.8"/>
<circle cx="259.9" cy="883.5" r="3.8"/>
<circle cx="266.8" cy="882.3" r="3.8"/>
<circle cx="265.0" cy="889.0" r="3.8"/>
<circle cx="266.4" cy="894.8" r="3.8"/>
<circle cx="278.7" cy="898.7" r="3.8"/>
<circle cx="264.4" cy="901.3" r="3.8"/>
<circle cx="273.6" cy="904.8" r="3.8"/>
<circle cx="297.8" cy="903.0" r="3.8"/>
<circle cx="255.6" cy="906.0" r="3.8"/>
<circle cx="259.3" cy="910.5" r="3.8"/>
<circle cx="262.9" cy="908.5" r="3.8"/>
<circle cx="248.0" cy="912.6" r="3.8"/>
<circle cx="249.0" cy="915.6" r="3.8"/>
<circle cx="261.3" cy="918.7" r="3.8"/>
<circle cx="249.0" cy="920.7" r="3.8"/>
<circle cx="237.8" cy="923.2" r="3.8"/>
<circle cx="273.2" cy="923.8" r="3.8"/>
<circle cx="247.4" cy="926.9" r="3.8"/>
<circle cx="262.3" cy="927.9" r="3.8"/>
<circle cx="256.2" cy="929.9" r="3.8"/>
<circle cx="305.7" cy="921.3" r="3.8"/>
<circle cx="308.3" cy="921.8" r="3.8"/>
<circle cx="294.6" cy="930.9" r="3.8"/>
<circle cx="296.7" cy="937.7" r="3.8"/>
<circle cx="274.2" cy="934.4" r="3.8"/>
<circle cx="262.3" cy="934.4" r="3.8"/>
<circle cx="237.4" cy="935.4" r="3.8"/>
<circle cx="252.1" cy="933.0" r="3.8"/>
<circle cx="255.2" cy="938.1" r="3.8"/>
<circle cx="242.9" cy="940.1" r="3.8"/>
<circle cx="275.2" cy="943.2" r="3.8"/>
<circle cx="284.8" cy="942.6" r="3.8"/>
<circle cx="260.7" cy="943.6" r="3.8"/>
<circle cx="307.7" cy="946.3" r="3.8"/>
<circle cx="318.9" cy="943.8" r="3.8"/>
<circle cx="237.4" cy="945.3" r="3.8"/>
<circle cx="243.9" cy="944.2" r="3.8"/>
<circle cx="259.9" cy="950.4" r="3.8"/>
<circle cx="253.5" cy="952.4" r="3.8"/>
<circle cx="249.0" cy="954.5" r="3.8"/>
<circle cx="230.7" cy="950.4" r="3.8"/>
<circle cx="230.7" cy="953.8" r="3.8"/>
<circle cx="227.6" cy="951.4" r="3.8"/>
<circle cx="274.2" cy="957.9" r="3.8"/>
<circle cx="270.1" cy="958.5" r="3.8"/>
<circle cx="214.7" cy="951.0" r="3.8"/>
<circle cx="214.7" cy="956.1" r="3.8"/>
<circle cx="206.1" cy="938.7" r="3.8"/>
<circle cx="205.7" cy="943.2" r="3.8"/>
<circle cx="200.0" cy="947.7" r="3.8"/>
<circle cx="246.0" cy="962.6" r="3.8"/>
<circle cx="250.7" cy="962.6" r="3.8"/>
<circle cx="254.8" cy="962.2" r="3.8"/>
<circle cx="237.8" cy="964.3" r="3.8"/>
<circle cx="225.1" cy="964.3" r="3.8"/>
<circle cx="228.0" cy="967.1" r="3.8"/>
<circle cx="265.4" cy="965.7" r="3.8"/>
<circle cx="249.7" cy="970.2" r="3.8"/>
<circle cx="259.3" cy="972.8" r="3.8"/>
<circle cx="265.4" cy="973.5" r="3.8"/>
<circle cx="268.5" cy="976.9" r="3.8"/>
<circle cx="235.4" cy="976.5" r="3.8"/>
<circle cx="215.9" cy="972.8" r="3.8"/>
<circle cx="213.3" cy="977.9" r="3.8"/>
<circle cx="261.3" cy="921.8" r="3.8"/>
<circle cx="261.3" cy="914.6" r="3.8"/>
<circle cx="259.3" cy="925.8" r="3.8"/>
<circle cx="246.0" cy="934.0" r="3.8"/>
<circle cx="261.3" cy="938.1" r="3.8"/>
<circle cx="249.0" cy="947.3" r="3.8"/>
<circle cx="248.0" cy="931.0" r="3.8"/>
<circle cx="164.2" cy="977.4" r="3.8"/>
<circle cx="179.5" cy="993.1" r="3.8"/>
<circle cx="194.4" cy="981.9" r="3.8"/>
<circle cx="171.3" cy="1018.1" r="3.8"/>
<circle cx="178.1" cy="1016.0" r="3.8"/>
<circle cx="162.5" cy="1053.0" r="3.8"/>
<circle cx="181.9" cy="1063.0" r="3.8"/>
<circle cx="185.6" cy="954.9" r="3.8"/>
<circle cx="195.8" cy="953.3" r="3.8"/>
<circle cx="249.7" cy="990.1" r="3.8"/>
<circle cx="253.6" cy="991.1" r="3.8"/>
<circle cx="265.8" cy="991.5" r="3.8"/>
<circle cx="265.5" cy="994.0" r="3.8"/>
<circle cx="249.7" cy="1003.1" r="3.8"/>
<circle cx="265.5" cy="1007.2" r="3.8"/>
<circle cx="262.8" cy="976.5" r="3.8"/>
</g>
<path class="mg" d="M125.9 1061.6 L311.0 876.2"/>
<path class="bl" d="M133.1 1062.6 L320.6 874.7"/>
<g class="pt">
<circle cx="656.1" cy="831.8" r="3.8"/>
<circle cx="616.2" cy="835.4" r="3.8"/>
<circle cx="612.6" cy="844.6" r="3.8"/>
<circle cx="645.7" cy="844.0" r="3.8"/>
<circle cx="642.2" cy="847.3" r="3.8"/>
<circle cx="636.1" cy="849.3" r="3.8"/>
<circle cx="638.1" cy="851.4" r="3.8"/>
<circle cx="630.9" cy="855.9" r="3.8"/>
<circle cx="643.2" cy="855.9" r="3.8"/>
<circle cx="650.0" cy="859.3" r="3.8"/>
<circle cx="641.6" cy="860.4" r="3.8"/>
<circle cx="634.0" cy="860.4" r="3.8"/>
<circle cx="627.9" cy="861.0" r="3.8"/>
<circle cx="624.2" cy="862.4" r="3.8"/>
<circle cx="593.1" cy="862.0" r="3.8"/>
<circle cx="595.2" cy="881.4" r="3.8"/>
<circle cx="596.8" cy="886.5" r="3.8"/>
<circle cx="618.7" cy="881.4" r="3.8"/>
<circle cx="614.0" cy="887.6" r="3.8"/>
<circle cx="556.8" cy="884.9" r="3.8"/>
<circle cx="636.5" cy="896.1" r="3.8"/>
<circle cx="601.3" cy="895.7" r="3.8"/>
<circle cx="606.8" cy="898.2" r="3.8"/>
<circle cx="595.2" cy="899.8" r="3.8"/>
<circle cx="591.1" cy="904.9" r="3.8"/>
<circle cx="579.9" cy="903.3" r="3.8"/>
<circle cx="572.1" cy="904.3" r="3.8"/>
<circle cx="571.7" cy="909.0" r="3.8"/>
<circle cx="579.9" cy="910.4" r="3.8"/>
<circle cx="583.9" cy="911.5" r="3.8"/>
<circle cx="614.2" cy="912.1" r="3.8"/>
<circle cx="572.1" cy="914.5" r="3.8"/>
<circle cx="592.7" cy="915.8" r="3.8"/>
<circle cx="553.7" cy="915.6" r="3.8"/>
<circle cx="579.9" cy="920.3" r="3.8"/>
<circle cx="576.8" cy="921.7" r="3.8"/>
<circle cx="589.5" cy="921.7" r="3.8"/>
<circle cx="554.3" cy="923.3" r="3.8"/>
<circle cx="572.7" cy="926.0" r="3.8"/>
<circle cx="571.7" cy="930.5" r="3.8"/>
<circle cx="546.1" cy="930.5" r="3.8"/>
<circle cx="595.2" cy="931.5" r="3.8"/>
<circle cx="585.6" cy="933.1" r="3.8"/>
<circle cx="567.2" cy="935.2" r="3.8"/>
<circle cx="573.7" cy="939.7" r="3.8"/>
<circle cx="578.8" cy="938.6" r="3.8"/>
<circle cx="583.3" cy="943.3" r="3.8"/>
<circle cx="545.7" cy="945.2" r="3.8"/>
<circle cx="550.6" cy="954.0" r="3.8"/>
<circle cx="540.0" cy="937.6" r="3.8"/>
<circle cx="418.2" cy="1000.6" r="3.8"/>
<circle cx="432.0" cy="1006.4" r="3.8"/>
<circle cx="425.7" cy="1015.8" r="3.8"/>
<circle cx="457.7" cy="998.7" r="3.8"/>
<circle cx="478.3" cy="1013.4" r="3.8"/>
<circle cx="482.2" cy="1013.0" r="3.8"/>
<circle cx="487.6" cy="1008.8" r="3.8"/>
<circle cx="488.8" cy="1001.8" r="3.8"/>
<circle cx="498.1" cy="998.3" r="3.8"/>
<circle cx="494.6" cy="993.6" r="3.8"/>
<circle cx="497.6" cy="984.2" r="3.8"/>
<circle cx="501.1" cy="982.6" r="3.8"/>
<circle cx="491.8" cy="948.5" r="3.8"/>
<circle cx="492.5" cy="952.7" r="3.8"/>
<circle cx="503.2" cy="969.5" r="3.8"/>
<circle cx="510.3" cy="962.5" r="3.8"/>
<circle cx="514.5" cy="966.3" r="3.8"/>
<circle cx="521.5" cy="952.2" r="3.8"/>
<circle cx="526.1" cy="951.1" r="3.8"/>
<circle cx="528.0" cy="945.7" r="3.8"/>
<circle cx="531.5" cy="943.4" r="3.8"/>
<circle cx="529.6" cy="931.0" r="3.8"/>
<circle cx="537.8" cy="937.5" r="3.8"/>
<circle cx="551.1" cy="955.0" r="3.8"/>
<circle cx="545.3" cy="962.0" r="3.8"/>
<circle cx="549.5" cy="964.4" r="3.8"/>
<circle cx="555.3" cy="963.7" r="3.8"/>
<circle cx="545.3" cy="970.2" r="3.8"/>
<circle cx="536.2" cy="979.6" r="3.8"/>
<circle cx="536.9" cy="988.4" r="3.8"/>
</g>
<path class="mg" d="M426.2 1036.8 L641.6 848.7"/>
<path class="bl" d="M413.5 1056.2 L663.6 824.2"/>
<path class="af" d="M329.1 331.3 L334.0 328.2"/>
<path class="af" d="M291.6 610.2 L295.7 605.5"/>
<path class="af" d="M289.5 644.6 L295.7 639.2"/>
<path class="af" d="M308.1 860.8 L311.0 857.5"/>
<path class="af" d="M326.1 901.3 L329.8 899.3"/>
<path class="af" d="M583.7 48.0 L588.2 42.5"/>
<path class="af" d="M614.2 284.3 L621.4 275.7"/>
<path class="af" d="M639.2 404.9 L642.8 403.9"/>
<path class="af" d="M591.9 575.7 L599.6 564.5"/>
<path class="af" d="M636.5 871.6 L642.2 867.5"/>
<path class="af" d="M620.0 843.9 L620.8 843.3"/>
<g class="lb" filter="url(#nf)">
<text x="96.8" y="41.9" font-size="17.30">Boreal forests</text>
<text x="421.3" y="39.9" font-size="17.20">Temperate grasslands</text>
<text x="90.0" y="318.3" font-size="17.40">Temperate forests</text>
<text x="418.6" y="317.5" font-size="17.15">Tropical grasslands</text>
<text x="86.5" y="586.9" font-size="17.50">Subtropical forests</text>
<text x="427.3" y="584.9" font-size="16.80">Tundra</text>
<text x="87.7" y="856.4" font-size="17.10">Tropical forests</text>
<text x="419.7" y="857.2" font-size="17.45">Wetlands</text>
<text class="bb" x="287.7" y="239.1" xml:space="preserve"><tspan font-style="italic">b</tspan> = 1.00</text>
<text class="bb" x="593.9" y="236.3" xml:space="preserve"><tspan font-style="italic">b</tspan> = 0.94</text>
<text class="bb" x="282.3" y="518.8" xml:space="preserve"><tspan font-style="italic">b</tspan> = 0.93</text>
<text class="bb" x="588.4" y="515.5" xml:space="preserve"><tspan font-style="italic">b</tspan> = 0.73</text>
<text class="bb" x="284.5" y="787.3" xml:space="preserve"><tspan font-style="italic">b</tspan> = 1.11</text>
<text class="bb" x="590.6" y="784.4" xml:space="preserve"><tspan font-style="italic">b</tspan> = 0.94</text>
<text class="bb" x="281.5" y="1057.7" xml:space="preserve"><tspan font-style="italic">b</tspan> = 1.08</text>
<text class="bb" x="587.3" y="1055.2" xml:space="preserve"><tspan font-style="italic">b</tspan> = 1.03</text>
</g>
<g class="ti" filter="url(#nf)">
<g transform="translate(0 1143)">
<text transform="translate(250.88 0) scale(0.879 1)">Plant</text>
<text transform="translate(295.86 0) scale(0.970 1)">fine</text>
<text transform="translate(330.63 0) scale(1.014 1)">root</text>
<text transform="translate(371.59 0) scale(0.889 1)">biomass</text>
<text transform="translate(442.22 0) scale(0.864 1)">(Mg·ha</text>
<text transform="translate(496.95 -7.9) scale(1.000 1)" font-size="10.8">−1</text>
<text transform="translate(510.62 0) scale(0.758 1)">)</text>
</g>
<g transform="translate(16.9 726.9) rotate(-90)">
<text transform="translate(-1.36 0) scale(0.907 1)">Plant</text>
<text transform="translate(44.86 0) scale(0.944 1)">fine</text>
<text transform="translate(79.57 0) scale(1.060 1)">root</text>
<text transform="translate(119.79 0) scale(0.970 1)">production</text>
<text transform="translate(212.81 0) scale(0.876 1)">(Mg·ha</text>
<text transform="translate(268.30 -7.9) scale(0.936 1)" font-size="10.8">−1</text>
<text transform="translate(279.53 0) scale(0.919 1)">·year</text>
<text transform="translate(320.78 -7.9) scale(0.955 1)" font-size="10.8">−1</text>
<text transform="translate(333.16 0) scale(0.884 1)">)</text>
</g>
</g>
</svg></body></html>
